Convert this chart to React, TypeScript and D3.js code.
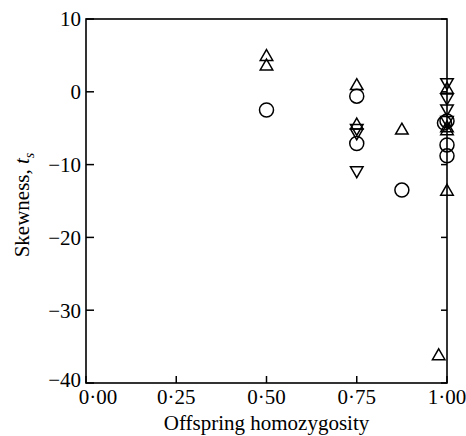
import React, { useEffect, useRef } from 'react'
import * as d3 from 'd3'

// values
const xTicks = [0, 0.25, 0.5, 0.75, 1.0]
const yTicks = [10, 0, -10, -20, -30, -40]
const circleX = [0.5, 0.75, 0.75, 0.875, 0.993, 1.0, 1.0, 1.0]
const circleY = [-2.5, -0.6, -7.1, -13.5, -4.3, -4.0, -7.3, -8.8]
const upX = [0.5, 0.5, 0.75, 0.75, 0.875, 1.0, 1.0, 1.0, 1.0, 0.977]
const upY = [4.8, 3.5, 0.8, -4.6, -5.3, 0.3, -5.0, -5.4, -13.7, -36.3]
const downX = [0.75, 0.75, 0.75, 1.0, 1.0, 1.0, 1.0]
const downY = [-5.0, -5.6, -10.8, 1.3, -0.8, -2.3, -3.9]

const fmt = (v: number) => v.toFixed(2).replace('.', '\u00b7')
const ylab = (v: number) => (v < 0 ? '\u2212' + Math.abs(v) : String(v))

const App = () => {
  const svgRef = useRef<SVGSVGElement>(null)
  useEffect(() => {
    const width = 466
    const height = 436
    const m = { left: 86, top: 19, right: 19, bottom: 53 }
    const w = width - m.left - m.right
    const h = height - m.top - m.bottom
    const svg = d3.select(svgRef.current)
    svg.selectAll('*').remove()
    const font = '"Liberation Serif", "Times New Roman", serif'

    const x = d3.scaleLinear().domain([0, 1]).range([0, w])
    const y = d3.scaleLinear().domain([-40, 10]).range([h, 0])
    const g = svg.append('g').attr('transform', `translate(${m.left},${m.top})`)

    // frame
    g.append('rect').attr('width', w).attr('height', h)
      .attr('fill', 'none').attr('stroke', '#000').attr('stroke-width', 1.6)

    // ticks
    g.selectAll('.lt').data(yTicks).join('line')
      .attr('x1', 0).attr('x2', 8).attr('y1', d => y(d)).attr('y2', d => y(d))
      .attr('stroke', '#000').attr('stroke-width', 1.5)
    g.selectAll('.rt').data(yTicks).join('line')
      .attr('x1', w).attr('x2', w - 6).attr('y1', d => y(d)).attr('y2', d => y(d))
      .attr('stroke', '#000').attr('stroke-width', 1.5)
    g.selectAll('.bt').data(xTicks).join('line')
      .attr('x1', d => x(d)).attr('x2', d => x(d)).attr('y1', h).attr('y2', h - 7)
      .attr('stroke', '#000').attr('stroke-width', 1.5)

    // tick labels
    g.selectAll('.yl').data(yTicks).join('text')
      .attr('x', -5).attr('y', d => y(d)).attr('dy', d => (d === -40 ? '0.2em' : '0.35em'))
      .attr('text-anchor', 'end').attr('font-family', font).attr('font-size', 21)
      .text(d => ylab(d))
    g.selectAll('.xl').data(xTicks).join('text')
      .attr('x', d => x(d) + (d === 0 ? 12 : 0)).attr('y', h + 21)
      .attr('text-anchor', 'middle').attr('font-family', font).attr('font-size', 21)
      .text(d => fmt(d))

    // axis titles
    g.append('text').attr('x', w / 2).attr('y', h + 47)
      .attr('text-anchor', 'middle').attr('font-family', font).attr('font-size', 21)
      .text('Offspring homozygosity')
    const yt = svg.append('text')
      .attr('transform', `translate(29,205) rotate(-90)`)
      .attr('text-anchor', 'middle').attr('font-family', font).attr('font-size', 21)
    yt.append('tspan').text('Skewness, ')
    yt.append('tspan').attr('font-style', 'italic').text('t')
    yt.append('tspan').attr('font-style', 'italic').attr('font-size', 14).attr('dy', 5).text('s')

    // markers
    const tri = d3.symbol().type(d3.symbolTriangle).size(68)()
    g.selectAll('.c').data(d3.range(circleX.length)).join('circle')
      .attr('cx', i => x(circleX[i])).attr('cy', i => y(circleY[i])).attr('r', 7)
      .attr('fill', 'none').attr('stroke', '#000').attr('stroke-width', 1.5)
    g.selectAll('.u').data(d3.range(upX.length)).join('path')
      .attr('d', tri)
      .attr('transform', i => `translate(${x(upX[i])},${y(upY[i])})`)
      .attr('fill', 'none').attr('stroke', '#000').attr('stroke-width', 1.5)
    g.selectAll('.dn').data(d3.range(downX.length)).join('path')
      .attr('d', tri)
      .attr('transform', i => `translate(${x(downX[i])},${y(downY[i])}) rotate(180)`)
      .attr('fill', 'none').attr('stroke', '#000').attr('stroke-width', 1.5)
  }, [])

  return (
    <svg ref={svgRef} width={466} height={436}
      style={{ position: 'absolute', left: 0, top: 0, background: '#fff' }} />
  )
}

export default App
